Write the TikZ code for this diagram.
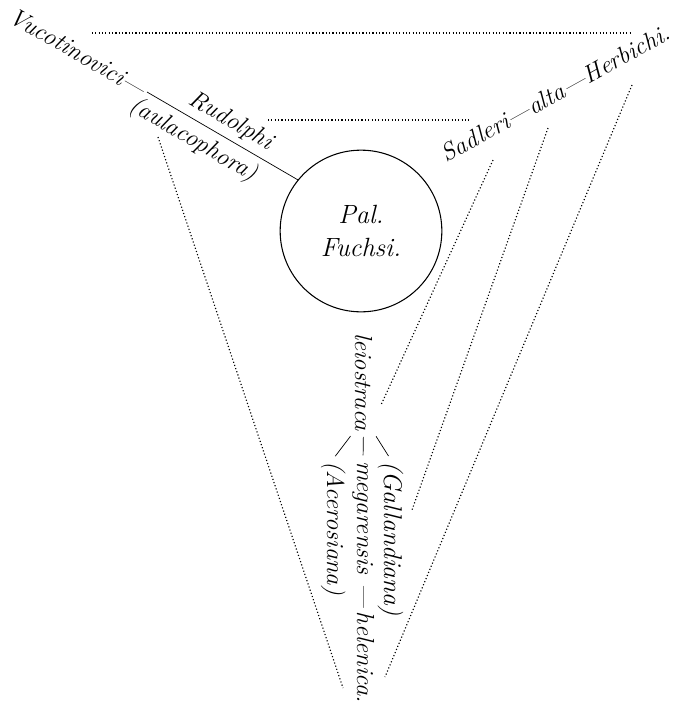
\documentclass[tikz,border=0pt]{standalone}
\begin{document}
\begin{tikzpicture}[
    x=0.2mm, y=-0.2mm,
    every node/.style={font=\fontsize{14}{17}\selectfont\itshape},
    dots/.style={line width=0.65pt, dash pattern=on 0.65pt off 1.25pt},
    down/.style={rotate=-90, anchor=base west, inner sep=1pt}
]
  \useasboundingbox (0,0) rectangle (676,708);
  % outer and inner dotted triangles
  \draw[dots] (92,33) -- (632,33);
  \draw[dots] (158,137) -- (343,688);
  \draw[dots] (632,85) -- (385,677);
  \draw[dots] (268,120) -- (471,120);
  \draw[dots] (493,160) -- (381,405);
  \draw[dots] (548,128) -- (412,510);

  \node[circle, draw, line width=0.6pt, minimum size=92pt, align=center,
    font=\fontsize{15}{18}\selectfont\itshape] (fuchsi)
    at (361,231) {Pal.\\[1pt]Fuchsi.};

  % left arm
  \node[rotate=-30, anchor=east, inner sep=1pt] (vuco) at (147,92) {Vucotinovici---};
  \draw (vuco.east) -- node[sloped, above, pos=0.5] {Rudolphi}
    node[sloped, below, pos=0.37] {(aulacophora)} (fuchsi.141);

  % right arm
  \node[rotate=29, anchor=base west, inner sep=1pt] (sadleri) at (445,164)
    {Sadleri---alta---Herbichi.};

  % lower arm, set downwards
  \node[down] (leio) at (355,331) {leiostraca};
  \node[down] (acero) at (327,459) {(Acerosiana)};
  \node[down] (mega) at (357,459) {megarensis\ ---\,helenica.};
  \node[down, font=\fontsize{14.6}{17}\selectfont\itshape] (galla) at (384,459) {(Gallandiana)};
  \draw[shorten <=2pt, shorten >=2pt] (leio.south east) -- (acero.west);
  \draw[shorten <=2pt, shorten >=2pt] (leio.east) -- (mega.west);
  \draw[shorten <=2pt, shorten >=2pt] (leio.north east) -- (galla.west);
\end{tikzpicture}
\end{document}
